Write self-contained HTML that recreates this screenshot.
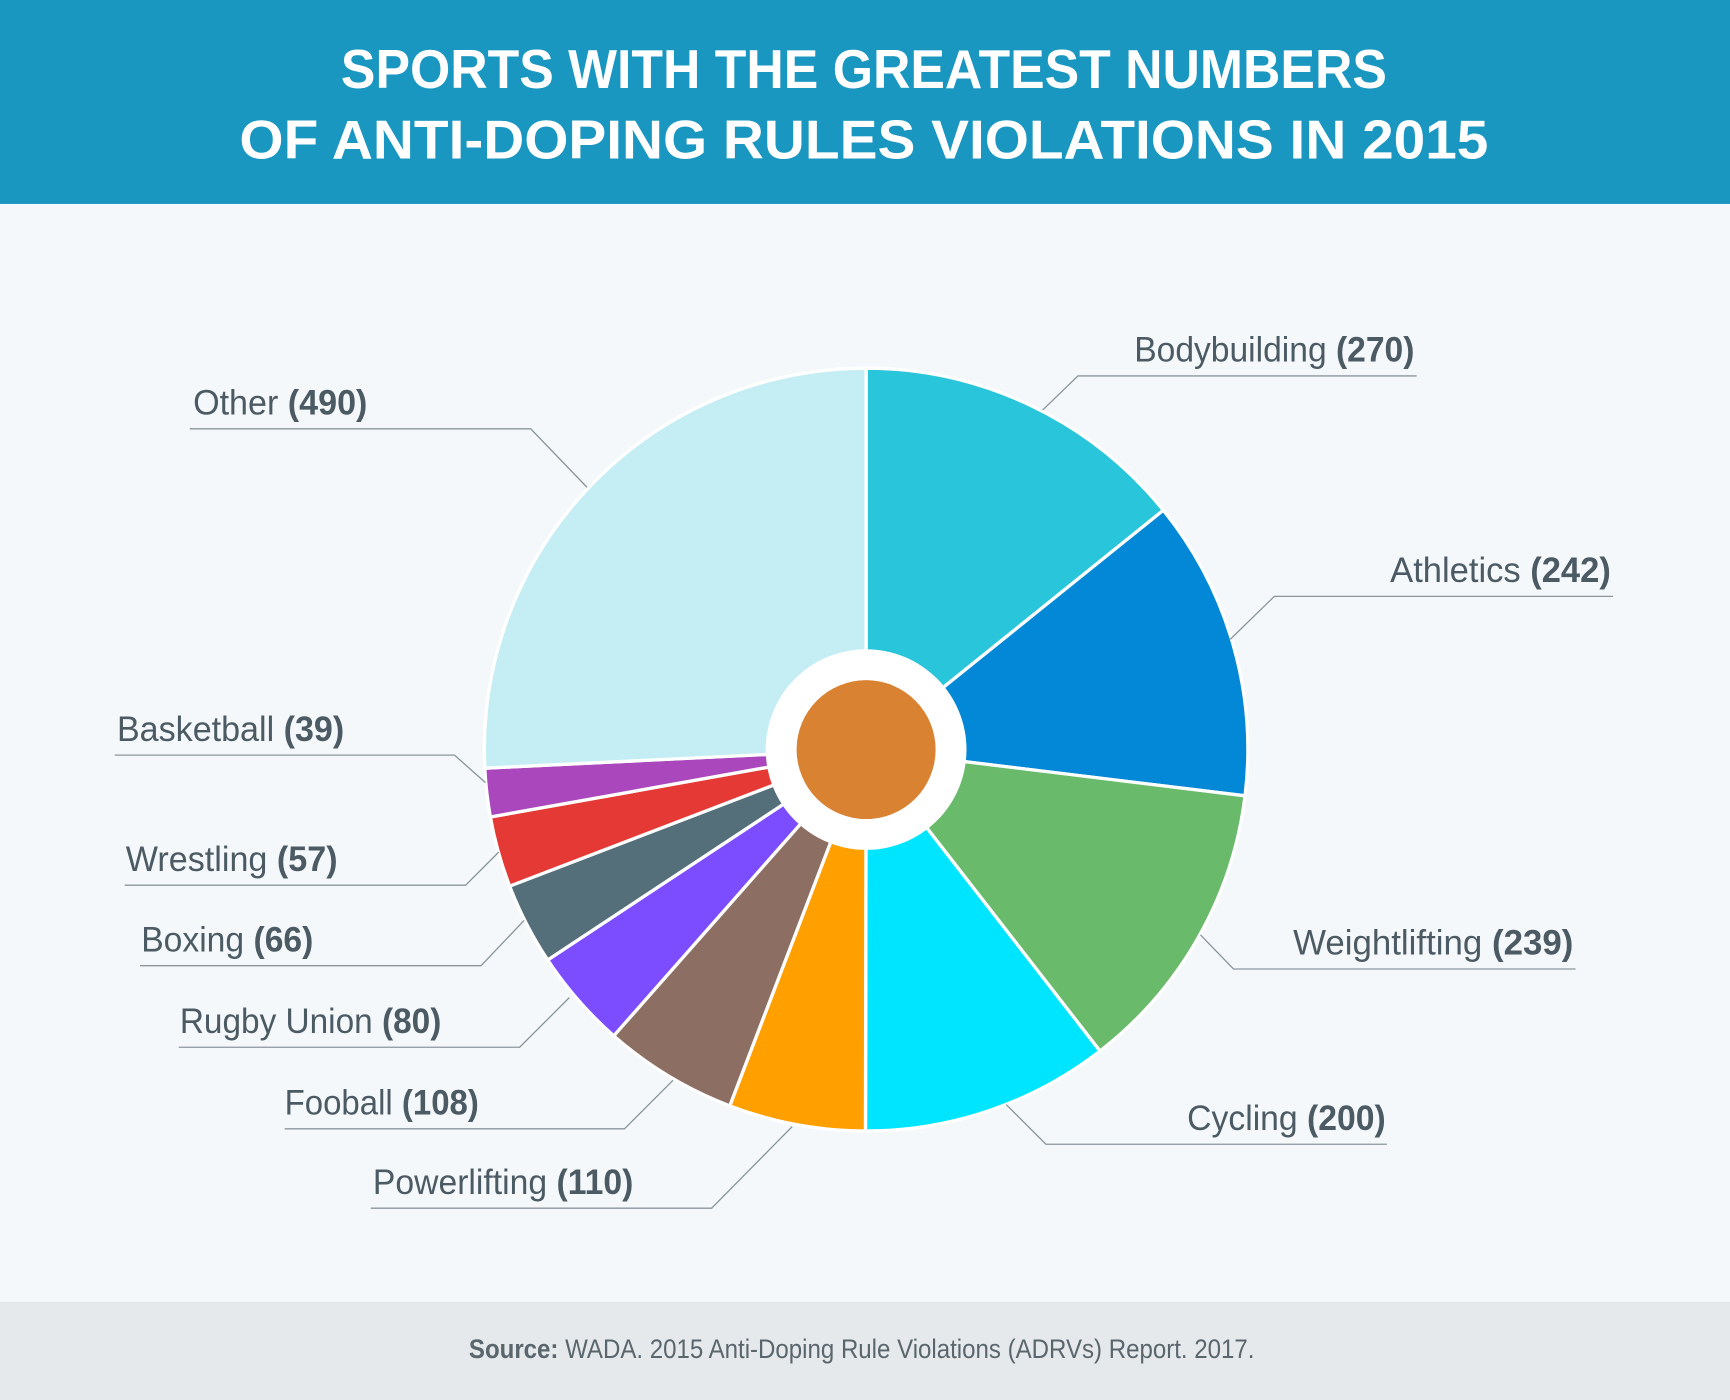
<!DOCTYPE html>
<html><head><meta charset="utf-8">
<style>
html,body{margin:0;padding:0;background:#f4f8fa;}
svg{display:block;}
</style></head>
<body>
<svg id="chart" width="1730" height="1400" viewBox="0 0 1568 1270" preserveAspectRatio="none" xmlns="http://www.w3.org/2000/svg">
  <rect x="0" y="0" width="1568" height="1270" fill="#f4f8fa"/>
  <rect x="0" y="0" width="1568" height="185" fill="#1a97c1"/>
  <text x="783" y="80" text-anchor="middle" font-family="Liberation Sans, sans-serif" font-size="50" font-weight="bold" fill="#ffffff" textLength="948" lengthAdjust="spacingAndGlyphs">SPORTS WITH THE GREATEST NUMBERS</text>
  <text x="783" y="144" text-anchor="middle" font-family="Liberation Sans, sans-serif" font-size="50" font-weight="bold" fill="#ffffff" textLength="1132" lengthAdjust="spacingAndGlyphs">OF ANTI-DOPING RULES VIOLATIONS IN 2015</text>
  <g id="slices"></g>
  <g id="labels"></g>
  <circle cx="785" cy="680" r="91" fill="#ffffff"/>
  <circle cx="785" cy="680" r="63" fill="#d88232"/>
  <rect x="0" y="1181" width="1568" height="89" fill="#e6e9eb"/>
  <text x="781" y="1232" text-anchor="middle" font-family="Liberation Sans Narrow, Liberation Sans, sans-serif" font-size="24" fill="#5a666d" textLength="712" lengthAdjust="spacingAndGlyphs"><tspan font-weight="bold">Source:</tspan> WADA. 2015 Anti-Doping Rule Violations (ADRVs) Report. 2017.</text>
</svg>
<script>
const categories = ["Bodybuilding","Athletics","Weightlifting","Cycling","Powerlifting","Fooball","Rugby Union","Boxing","Wrestling","Basketball","Other"];
const values = [270,242,239,200,110,108,80,66,57,39,490];
const colors = ["#29c5da","#0288d6","#6aba6c","#00e5ff","#ffa000","#8d6e63","#7c4dff","#546e7a","#e53935","#ab47bc","#c5eef4"];
// layout only
const labelLayout = [
  [1028,254,341,977,1284,945,372],
  [1260,200,541,1155,1462,1115,580],
  [1172,254,879,1118,1428,1088,848],
  [1076,180,1038,948,1257,912,1002],
  [338,236,1096,645,336,718,1022],
  [258,176,1024,566,258,610,980],
  [163,237,950,471,162,516,905],
  [128,156,876,436,127,475,835],
  [114,192,803,422,113,452,773],
  [106,206,685,412,104,440,710],
  [175,158,389,481,172,532,442]
];
const NS = "http://www.w3.org/2000/svg";
const cx = 785, cy = 680, R = 346;
const total = values.reduce((a,b)=>a+b,0);
function angleScale(v){ return v/total*2*Math.PI; }
function pt(a,r){ return [cx + r*Math.sin(a), cy - r*Math.cos(a)]; }
const gS = document.getElementById("slices");
let a0 = 0;
values.forEach((v,i)=>{
  const a1 = a0 + angleScale(v);
  const p0 = pt(a0,R), p1 = pt(a1,R);
  const large = (a1-a0) > Math.PI ? 1 : 0;
  const p = document.createElementNS(NS,"path");
  p.setAttribute("d",`M${cx},${cy} L${p0[0]},${p0[1]} A${R},${R} 0 ${large} 1 ${p1[0]},${p1[1]} Z`);
  p.setAttribute("fill",colors[i]);
  p.setAttribute("stroke","#ffffff");
  p.setAttribute("stroke-width","3");
  p.setAttribute("stroke-linejoin","round");
  
  
  gS.appendChild(p);
  a0 = a1;
});
const gL = document.getElementById("labels");
categories.forEach((c,i)=>{
  const L = labelLayout[i];
  const t = document.createElementNS(NS,"text");
  t.setAttribute("x",L[0]);
  t.setAttribute("y",L[2]-13);
  t.setAttribute("font-family","Liberation Sans Narrow, Liberation Sans, sans-serif");
  t.setAttribute("font-size","32");
  t.setAttribute("fill","#4b5a63");
  t.setAttribute("textLength",L[1]);
  t.setAttribute("lengthAdjust","spacingAndGlyphs");
  
  
  t.appendChild(document.createTextNode(c + " "));
  const b = document.createElementNS(NS,"tspan");
  b.setAttribute("font-weight","bold");
  b.textContent = "(" + values[i] + ")";
  t.appendChild(b);
  gL.appendChild(t);
  const pl = document.createElementNS(NS,"polyline");
  pl.setAttribute("points",`${L[4]},${L[2]} ${L[3]},${L[2]} ${L[5]},${L[6]}`);
  pl.setAttribute("fill","none");
  pl.setAttribute("stroke","#8a969c");
  pl.setAttribute("stroke-width","1.2");
  
  
  gL.appendChild(pl);
});
</script>
</body></html>
